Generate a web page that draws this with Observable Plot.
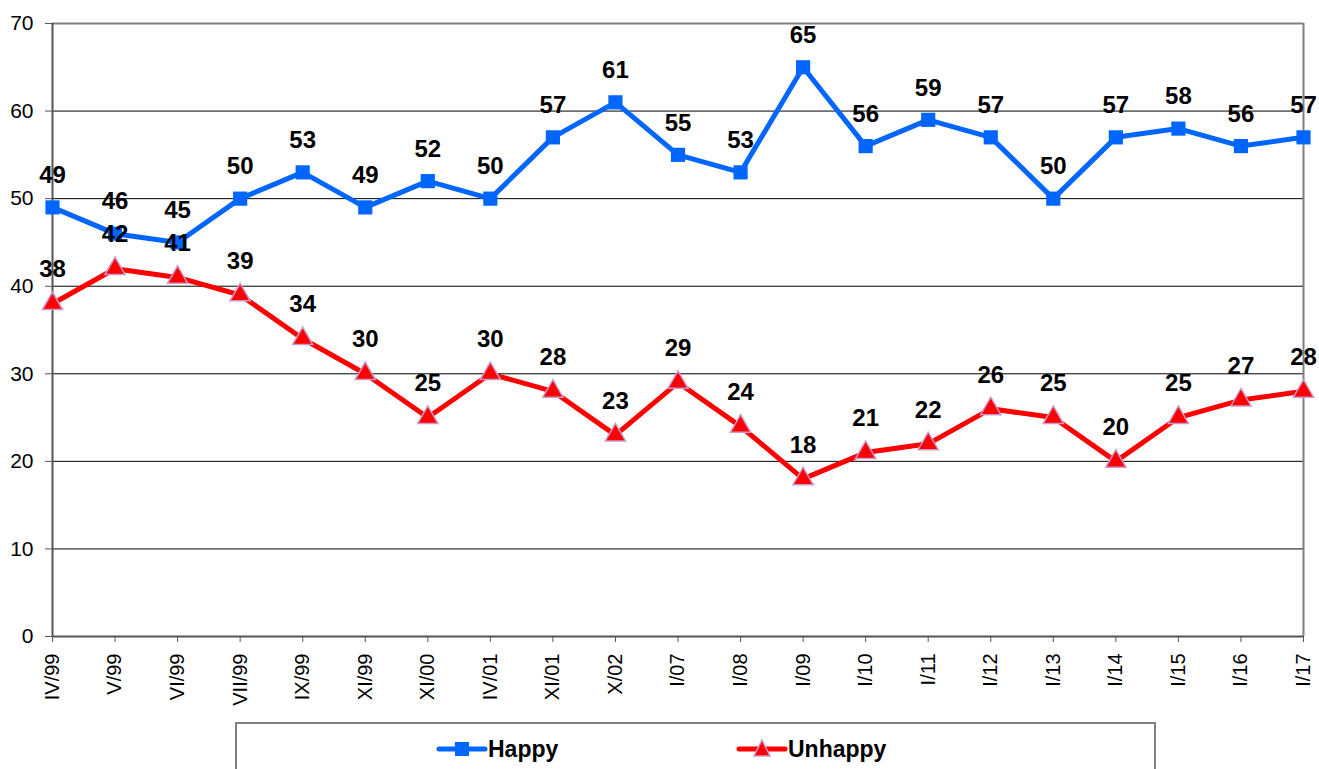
<!DOCTYPE html>
<html>
<head>
<meta charset="utf-8">
<script src="https://cdn.jsdelivr.net/npm/d3@7"></script>
<script src="https://cdn.jsdelivr.net/npm/@observablehq/plot@0.6"></script>
<style>
  html, body { margin: 0; padding: 0; background: #fff; overflow: hidden; }
  #wrap { position: relative; width: 1319px; height: 769px; font-family: "Liberation Sans", Arial, sans-serif; }
  #legend { position: absolute; left: 235px; top: 722px; width: 921px; height: 60px; border: 2px solid #808080; box-sizing: border-box; background: #fff; }
  .item { position: absolute; top: 10px; height: 30px; display: flex; align-items: center; font-weight: bold; font-size: 23px; color: #000; }
</style>
</head>
<body>
<div id="wrap">
  <div id="chart"></div>
  <div id="legend">
    <div class="item" style="left:199px;">
      <svg width="52" height="30"><line x1="3" y1="15" x2="49" y2="15" stroke="#0066FF" stroke-width="5" stroke-linecap="round"/><rect x="19" y="8" width="14" height="14" fill="#0066FF"/></svg>
      <span>Happy</span>
    </div>
    <div class="item" style="left:499px;">
      <svg width="52" height="30"><line x1="3" y1="15" x2="49" y2="15" stroke="#FF0000" stroke-width="5" stroke-linecap="round"/><path d="M26,6 L34,22 L18,22 Z" fill="#FF0000" stroke="#CC99CC" stroke-width="1.5"/></svg>
      <span>Unhappy</span>
    </div>
  </div>
</div>
<script>
const categories = ["IV/99","V/99","VI/99","VII/99","IX/99","XI/99","XI/00","IV/01","XI/01","X/02","I/07","I/08","I/09","I/10","I/11","I/12","I/13","I/14","I/15","I/16","I/17"];
const happy = [49,46,45,50,53,49,52,50,57,61,55,53,65,56,59,57,50,57,58,56,57];
const unhappy = [38,42,41,39,34,30,25,30,28,23,29,24,18,21,22,26,25,20,25,27,28];
const yTicks = [0,10,20,30,40,50,60,70];
const gridTicks = [10,20,30,40,50,60];

const happyData = categories.map((c, i) => ({cat: c, value: happy[i]}));
const unhappyData = categories.map((c, i) => ({cat: c, value: unhappy[i]}));

const font = "Liberation Sans, Arial, sans-serif";

const chart = Plot.plot({
  width: 1319,
  height: 769,
  marginLeft: 52,
  marginRight: 16,
  marginTop: 23,
  marginBottom: 133,
  style: {fontFamily: font, background: "white", color: "#000"},
  x: {type: "point", domain: categories, padding: 0, round: false},
  y: {domain: [0, 70]},
  marks: [
    Plot.ruleY(gridTicks, {stroke: "#000", strokeWidth: 1}),
    Plot.ruleY([70], {stroke: "#808080", strokeWidth: 2}),
    Plot.ruleX([categories[categories.length - 1]], {stroke: "#808080", strokeWidth: 2}),
    Plot.ruleY([0], {stroke: "#555", strokeWidth: 2}),
    Plot.ruleX([categories[0]], {stroke: "#555", strokeWidth: 2}),
    Plot.axisY({ticks: yTicks, tickSize: 7, tickPadding: 12, fontSize: 21, label: null, stroke: "#555", color: "#000"}),
    Plot.axisX({tickSize: 6, tickRotate: -90, tickPadding: 11, fontSize: 20, label: null, stroke: "#555", color: "#000"}),
    Plot.line(unhappyData, {x: "cat", y: "value", stroke: "#FF0000", strokeWidth: 5}),
    Plot.line(happyData, {x: "cat", y: "value", stroke: "#0066FF", strokeWidth: 5}),
    Plot.dot(unhappyData, {x: "cat", y: "value", symbol: "triangle", r: 7.5, fill: "#FF0000", stroke: "#CC99CC", strokeWidth: 1.5}),
    Plot.dot(happyData, {x: "cat", y: "value", symbol: "square", r: 8, fill: "#0066FF"}),
    Plot.text(happyData, {x: "cat", y: "value", text: d => String(d.value), dy: -32, fontSize: 24, fontWeight: "bold", fill: "#000"}),
    Plot.text(unhappyData, {x: "cat", y: "value", text: d => String(d.value), dy: -34, fontSize: 24, fontWeight: "bold", fill: "#000"})
  ]
});
document.getElementById("chart").appendChild(chart);
</script>
</body>
</html>
